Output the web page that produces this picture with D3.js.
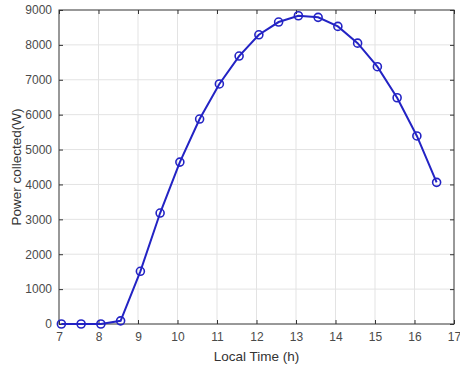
<!DOCTYPE html>
<html lang="en">
<head>
    <meta charset="UTF-8">
    <title>Power collected</title>
    <script src="https://d3js.org/d3.v7.min.js"></script>
    <style>
        body, html { margin: 0; padding: 0; background: #fff; overflow: hidden; }
        svg { display: block; }
    </style>
</head>
<body>
    <script>
        // data
        const hours = [7.06, 7.56, 8.06, 8.56, 9.06, 9.56, 10.06, 10.56, 11.06, 11.56,
                       12.06, 12.56, 13.06, 13.56, 14.06, 14.56, 15.06, 15.56, 16.06, 16.56];
        const power = [0, 0, 0, 90, 1510, 3180, 4640, 5875, 6880, 7680,
                       8290, 8655, 8835, 8790, 8530, 8050, 7375, 6485, 5390, 4060];
        const xTicks = [7, 8, 9, 10, 11, 12, 13, 14, 15, 16, 17];
        const yTicks = [0, 1000, 2000, 3000, 4000, 5000, 6000, 7000, 8000, 9000];

        const width = 460, height = 367;
        const plotL = 59, plotR = 454, plotT = 10, plotB = 324;

        const svg = d3.select("body").append("svg")
            .attr("width", width)
            .attr("height", height);

        const x = d3.scaleLinear().domain([7, 17]).range([plotL, plotR]);
        const y = d3.scaleLinear().domain([0, 9000]).range([plotB, plotT]);

        // grid
        svg.append("g").selectAll("line")
            .data(xTicks.slice(1, -1))
            .join("line")
            .attr("x1", d => x(d)).attr("x2", d => x(d))
            .attr("y1", plotT).attr("y2", plotB)
            .attr("stroke", "#e3e3e3").attr("stroke-width", 1);
        svg.append("g").selectAll("line")
            .data(yTicks.slice(1, -1))
            .join("line")
            .attr("x1", plotL).attr("x2", plotR)
            .attr("y1", d => y(d)).attr("y2", d => y(d))
            .attr("stroke", "#e3e3e3").attr("stroke-width", 1);

        // axes with inward ticks
        const axisColor = "#333";
        const fmt = d3.format("d");
        const styleAxis = g => {
            g.select(".domain").remove();
            g.selectAll(".tick line").attr("stroke", axisColor);
            g.selectAll(".tick text")
                .attr("fill", "#4a4a4a")
                .attr("font-family", "Liberation Sans, Arial, sans-serif")
                .attr("font-size", 12);
        };
        svg.append("g")
            .attr("transform", `translate(0,${plotB})`)
            .call(d3.axisBottom(x).tickValues(xTicks).tickFormat(fmt).tickSizeInner(-4).tickPadding(8))
            .call(styleAxis);
        svg.append("g")
            .attr("transform", `translate(0,${plotT})`)
            .call(d3.axisTop(x).tickValues(xTicks).tickFormat("").tickSizeInner(-4))
            .call(styleAxis);
        svg.append("g")
            .attr("transform", `translate(${plotL},0)`)
            .call(d3.axisLeft(y).tickValues(yTicks).tickFormat(fmt).tickSizeInner(-4).tickPadding(7))
            .call(styleAxis);
        svg.append("g")
            .attr("transform", `translate(${plotR},0)`)
            .call(d3.axisRight(y).tickValues(yTicks).tickFormat("").tickSizeInner(-4))
            .call(styleAxis);

        // box
        svg.append("rect")
            .attr("x", plotL).attr("y", plotT)
            .attr("width", plotR - plotL).attr("height", plotB - plotT)
            .attr("fill", "none").attr("stroke", axisColor).attr("stroke-width", 1);

        // series
        const pts = hours.map((h, i) => [h, power[i]]);
        const lineColor = "#2323c4";
        svg.append("path")
            .datum(pts)
            .attr("fill", "none")
            .attr("stroke", lineColor)
            .attr("stroke-width", 2)
            .attr("d", d3.line().x(d => x(d[0])).y(d => y(d[1])));
        svg.append("g").selectAll("circle")
            .data(pts)
            .join("circle")
            .attr("cx", d => x(d[0]))
            .attr("cy", d => y(d[1]))
            .attr("r", 4)
            .attr("fill", "none")
            .attr("stroke", lineColor)
            .attr("stroke-width", 1.6);

        // labels
        svg.append("text")
            .attr("x", (plotL + plotR) / 2)
            .attr("y", 361)
            .attr("text-anchor", "middle")
            .attr("fill", "#333")
            .attr("font-family", "Liberation Sans, Arial, sans-serif")
            .attr("font-size", 13.5)
            .text("Local Time (h)");
        svg.append("text")
            .attr("transform", `translate(21,${(plotT + plotB) / 2}) rotate(-90)`)
            .attr("text-anchor", "middle")
            .attr("fill", "#333")
            .attr("font-family", "Liberation Sans, Arial, sans-serif")
            .attr("font-size", 13.5)
            .text("Power collected(W)");
    </script>
</body>
</html>
